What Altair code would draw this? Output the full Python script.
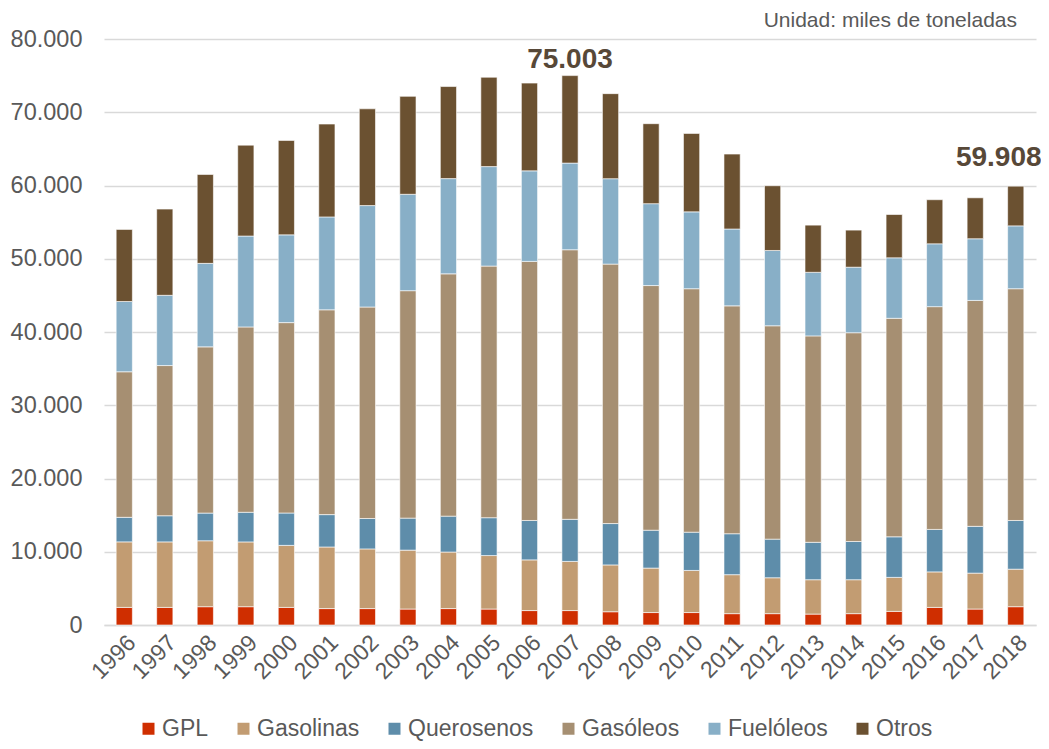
import altair as alt
import pandas as pd

years = ["1996", "1997", "1998", "1999", "2000", "2001", "2002", "2003", "2004", "2005", "2006", "2007",
         "2008", "2009", "2010", "2011", "2012", "2013", "2014", "2015", "2016", "2017", "2018"]
series = ["GPL", "Gasolinas", "Querosenos", "Gasóleos", "Fuelóleos", "Otros"]
colors = ["#CF2E00", "#C29C72", "#5E8DAA", "#A68F72", "#88AFC7", "#6B5131"]

gpl = [2400, 2400, 2500, 2500, 2400, 2240, 2240, 2180, 2240, 2180, 1970, 1970, 1810, 1700, 1700, 1550, 1550, 1490, 1550, 1860, 2400, 2180, 2500]
gasolinas = [8950, 8945, 9000, 8840, 8470, 8410, 8150, 8040, 7720, 7300, 6920, 6710, 6390, 6070, 5750, 5320, 4900, 4690, 4630, 4640, 4850, 4900, 5120]
querosenos = [3350, 3570, 3780, 4050, 4420, 4420, 4150, 4370, 4900, 5170, 5380, 5750, 5650, 5170, 5220, 5590, 5270, 5110, 5220, 5540, 5800, 6390, 6650]
gasoleos = [19870, 20505, 22690, 25300, 25990, 27960, 28870, 31050, 33080, 34350, 35370, 36800, 35420, 33400, 33240, 31110, 29130, 28180, 28500, 29830, 30410, 30840, 31640]
fueloleos = [9590, 9590, 11400, 12410, 11980, 12680, 13850, 13160, 13000, 13580, 12360, 11830, 11660, 11180, 10490, 10490, 10280, 8680, 8950, 8260, 8580, 8420, 8580]
otros = [9850, 11770, 12140, 12410, 12890, 12680, 13210, 13370, 12570, 12200, 11980, 11943, 11610, 10920, 10710, 10230, 8840, 6440, 5060, 5910, 6020, 5590, 5418]

label_years = ["2007", "2018"]
label_values = [75003, 59908]

FONT = "Liberation Sans"
GREY = "#595959"

rows = []
for s_i, (name, vals) in enumerate(zip(series, [gpl, gasolinas, querosenos, gasoleos, fueloleos, otros])):
    for y, v in zip(years, vals):
        rows.append({"year": y, "serie": name, "value": v, "orden": s_i})
df = pd.DataFrame(rows)

W, H = 932, 586

x_enc = alt.X("year:N", sort=years, title=None,
              scale=alt.Scale(paddingInner=0.6, paddingOuter=0.3),
              axis=alt.Axis(labelAngle=-45, labelFontSize=23, labelColor=GREY, labelFont=FONT,
                            ticks=False, domainColor="#D9D9D9", domainWidth=1.5, labelPadding=6))

bars = alt.Chart(df).mark_bar(stroke="white", strokeWidth=0.6).encode(
    x=x_enc,
    y=alt.Y("value:Q", stack="zero", title=None,
            scale=alt.Scale(domain=[0, 80000]),
            axis=alt.Axis(values=[0, 10000, 20000, 30000, 40000, 50000, 60000, 70000, 80000],
                          labelExpr="replace(format(datum.value, ','), ',', '.')",
                          labelFontSize=23.5, labelColor=GREY, labelFont=FONT, labelPadding=22,
                          ticks=False, domain=False, gridColor="#D9D9D9", gridWidth=1.5)),
    color=alt.Color("serie:N", sort=series, title=None,
                    scale=alt.Scale(domain=series, range=colors),
                    legend=alt.Legend(orient="none", direction="horizontal", legendX=33, legendY=678,
                                      symbolType="square", symbolSize=144, symbolStrokeWidth=0,
                                      labelFontSize=23, labelColor=GREY, labelFont=FONT,
                                      columnPadding=23, labelOffset=2)),
    order=alt.Order("orden:Q", sort="ascending"),
)

lab_df = pd.DataFrame({"year": label_years, "value": label_values,
                       "txt": [f"{v:,}".replace(",", ".") for v in label_values]})

lab1 = alt.Chart(lab_df[lab_df.year == "2007"]).mark_text(
    fontSize=28, fontWeight="bold", font=FONT, color="#574838", baseline="alphabetic", dy=-8, dx=0
).encode(x=alt.X("year:N", sort=years), y="value:Q", text="txt:N")

lab2 = alt.Chart(lab_df[lab_df.year == "2018"]).mark_text(
    fontSize=28, fontWeight="bold", font=FONT, color="#574838", baseline="alphabetic", dy=-20, dx=-17
).encode(x=alt.X("year:N", sort=years), y="value:Q", text="txt:N")

unit = alt.Chart(pd.DataFrame({"t": ["Unidad: miles de toneladas"]})).mark_text(
    fontSize=21, font=FONT, color=GREY, align="right", baseline="middle"
).encode(x=alt.value(W - 19), y=alt.value(-18), text="t:N")

chart = alt.layer(bars, lab1, lab2, unit).properties(
    width=W, height=H,
    autosize=alt.AutoSizeParams(type="none"),
    padding={"left": 96, "top": 31, "right": 5, "bottom": 118},
).configure_view(stroke=None)

chart.save("out.html", embed_options={"renderer": "svg", "actions": False})
